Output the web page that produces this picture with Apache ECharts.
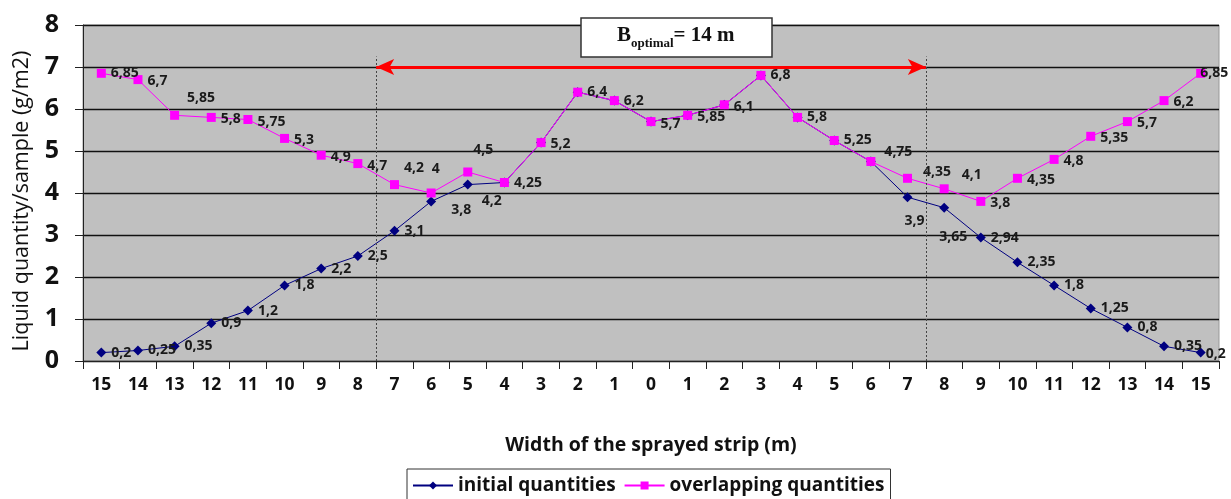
<!DOCTYPE html>
<html>
<head>
<meta charset="utf-8">
<script src="https://cdn.jsdelivr.net/npm/echarts@6/dist/echarts.min.js"></script>
<style>html,body{margin:0;padding:0;background:#fff;}#c{width:1231px;height:499px;}</style>
</head>
<body>
<div id="c"></div>
<script>
var categories = ['15','14','13','12','11','10','9','8','7','6','5','4','3','2','1','0','1','2','3','4','5','6','7','8','9','10','11','12','13','14','15'];
var initialQuantities = [0.2,0.25,0.35,0.9,1.2,1.8,2.2,2.5,3.1,3.8,4.2,4.25,5.2,6.4,6.2,5.7,5.85,6.1,6.8,5.8,5.25,4.75,3.9,3.65,2.94,2.35,1.8,1.25,0.8,0.35,0.2];
var overlappingQuantities = [6.85,6.7,5.85,5.8,5.75,5.3,4.9,4.7,4.2,4,4.5,4.25,5.2,6.4,6.2,5.7,5.85,6.1,6.8,5.8,5.25,4.75,4.35,4.1,3.8,4.35,4.8,5.35,5.7,6.2,6.85];
var yTicks = [0,1,2,3,4,5,6,7,8];
// optimal band boundaries (in category-boundary units) and arrow level
var bandStart = 8, bandEnd = 23, arrowLevel = 7, bandTop = 7.25;

// label offsets (style only)
var blueLabelOffsets = {9:[10,9],10:[4,16],22:[-13,24],23:[-15,29],30:[-5,1]};
var blueLabelHidden = [11,12,13,14,15,16,17,18,19,20,21];
var pinkLabelOffsets = {1:[0,1],2:[3,-17],3:[0,2],4:[0,3],5:[0,2],6:[0,2],7:[0,2],8:[0,-17],9:[-9,-24],10:[-4,-22],11:[0,1],12:[0,1],15:[0,2],16:[0,2],17:[0,2],21:[4,-9],22:[6,-6],23:[8,-14],24:[0,2],25:[0,2],26:[0,2],27:[0,2],28:[0,1],29:[0,1],30:[-10,0]};

function fmt(p){ return String(p.value).replace('.', ','); }
var labelBase = {show:true, position:'right', distance:5, color:'#1a1a1a', fontFamily:'Open Sans', fontWeight:'bold', fontSize:14, formatter: fmt};

var blueData = initialQuantities.map(function(v,i){
  var o = {value:v};
  if (blueLabelHidden.indexOf(i) >= 0) o.label = {show:false};
  else if (blueLabelOffsets[i]) o.label = {offset: blueLabelOffsets[i]};
  return o;
});
var pinkData = overlappingQuantities.map(function(v,i){
  var o = {value:v};
  if (pinkLabelOffsets[i]) o.label = {offset: pinkLabelOffsets[i]};
  return o;
});

var chart = echarts.init(document.getElementById('c'));
chart.setOption({
  animation:false,
  backgroundColor:'#fff',
  title:{
    left:581, top:15,
    text:'{b|B}{s|optimal}{b|= 14 m}',
    backgroundColor:'#fff', borderColor:'#333', borderWidth:1.5,
    padding:[7,38,7,36],
    textStyle:{
      rich:{
        b:{fontFamily:'Liberation Serif', fontWeight:'bold', fontSize:21, color:'#111', lineHeight:24, verticalAlign:'bottom'},
        s:{fontFamily:'Liberation Serif', fontWeight:'bold', fontSize:13, color:'#111', lineHeight:24, verticalAlign:'bottom', padding:[0,0,-4,0]}
      }
    }
  },
  legend:{
    left:407, top:469,
    data:['initial quantities','overlapping quantities'],
    borderColor:'#333', borderWidth:1, backgroundColor:'#fff',
    padding:[7,6,10,5], itemGap:8, itemWidth:40, itemHeight:10,
    textStyle:{fontFamily:'Open Sans', fontWeight:'bold', fontSize:19, color:'#111'}
  },
  grid:{left:83, right:12, top:25, bottom:138, containLabel:false, outerBoundsMode:'none', show:true, backgroundColor:'#c0c0c0', borderColor:'#999', borderWidth:1},
  xAxis:[{
    type:'category', data:categories, boundaryGap:true,
    name:'Width of the sprayed strip (m)', nameLocation:'middle', nameGap:74,
    nameTextStyle:{fontFamily:'Open Sans', fontWeight:'bold', fontSize:19.5, color:'#111'},
    axisLine:{lineStyle:{color:'#222', width:1}},
    axisTick:{show:true, interval:0, length:8, lineStyle:{color:'#222'}},
    axisLabel:{interval:0, margin:15, fontFamily:'Open Sans', fontWeight:'bold', fontSize:17.5, color:'#111'},
    splitLine:{show:false}
  },{
    type:'value', min:0, max:categories.length, show:false
  }],
  yAxis:{
    type:'value', min:0, max:8, interval:1,
    name:'Liquid quantity/sample (g/m2)', nameLocation:'middle', nameGap:50, nameRotate:90,
    nameTextStyle:{fontFamily:'Open Sans', fontWeight:'normal', fontSize:21.5, color:'#111', padding:[0,16,0,0]},
    axisLine:{show:true, lineStyle:{color:'#222', width:1}},
    axisTick:{show:true, length:8, lineStyle:{color:'#222'}},
    axisLabel:{margin:24, fontFamily:'Open Sans', fontWeight:'bold', fontSize:25, color:'#111',
      formatter:function(v){ return yTicks.indexOf(v) >= 0 ? String(v) : ''; }},
    splitLine:{show:true, lineStyle:{color:'#111', width:1.3}}
  },
  series:[
    {
      name:'initial quantities', type:'line', data:blueData,
      symbol:'diamond', symbolSize:10, itemStyle:{color:'#000080'},
      lineStyle:{color:'#000080', width:1}, label:labelBase, z:3
    },
    {
      name:'overlapping quantities', type:'line', data:pinkData,
      symbol:'rect', symbolSize:9, itemStyle:{color:'#ff00ff'},
      lineStyle:{color:'#ff00ff', width:1}, label:labelBase, z:4
    },
    {
      name:'band', type:'line', xAxisIndex:1, yAxisIndex:0, data:[], showSymbol:false,
      markLine:{
        silent:true, symbol:['none','none'], label:{show:false},
        lineStyle:{color:'#444', type:[2,2], width:1},
        data:[
          [{coord:[bandStart,0]},{coord:[bandStart,bandTop]}],
          [{coord:[bandEnd,0]},{coord:[bandEnd,bandTop]}]
        ]
      }
    },
    {
      name:'arrow', type:'line', xAxisIndex:1, yAxisIndex:0, data:[], showSymbol:false,
      markLine:{
        silent:true, symbol:['arrow','arrow'], symbolSize:[12,18], label:{show:false},
        lineStyle:{color:'#ff0000', type:'solid', width:3},
        data:[
          [{coord:[bandStart,arrowLevel]},{coord:[bandEnd,arrowLevel]}]
        ]
      }
    }
  ]
});
</script>
</body>
</html>
